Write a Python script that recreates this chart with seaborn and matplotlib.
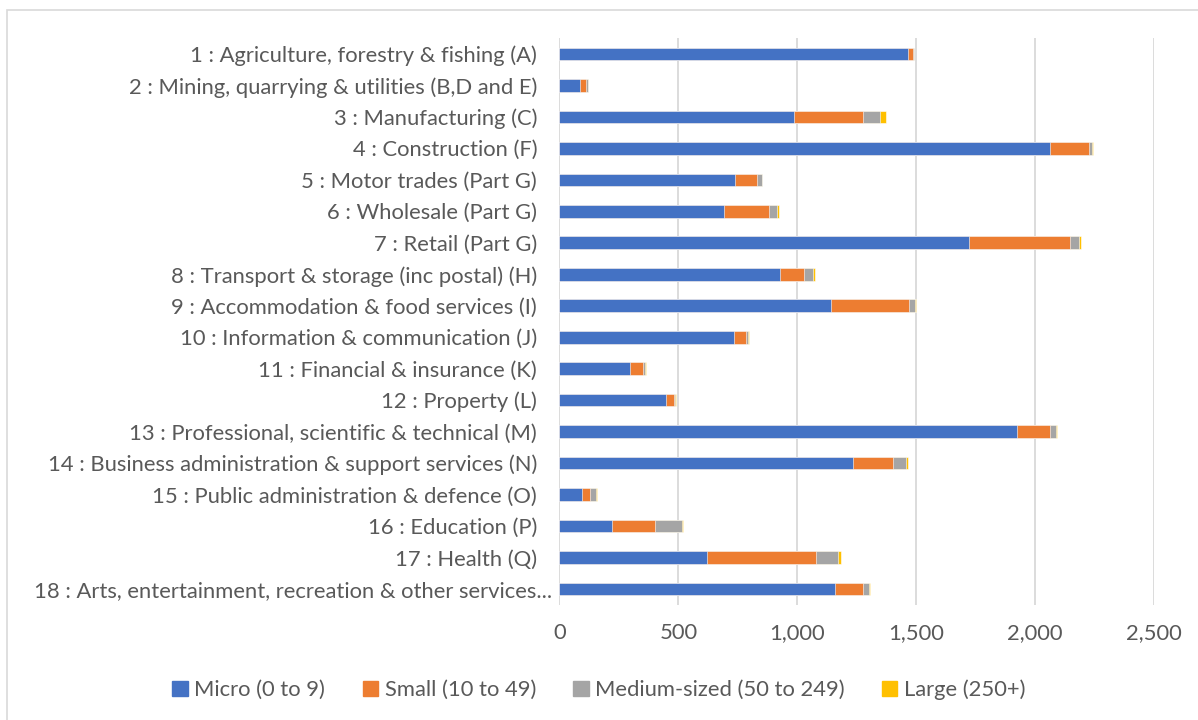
import numpy as np
import pandas as pd
import matplotlib
matplotlib.use("Agg")
import matplotlib.pyplot as plt
import matplotlib.patches as mpatches
import matplotlib.transforms as mtransforms
import seaborn as sns

# industries, top to bottom
industries = [
    "1 : Agriculture, forestry & fishing (A)",
    "2 : Mining, quarrying & utilities (B,D and E)",
    "3 : Manufacturing (C)",
    "4 : Construction (F)",
    "5 : Motor trades (Part G)",
    "6 : Wholesale (Part G)",
    "7 : Retail (Part G)",
    "8 : Transport & storage (inc postal) (H)",
    "9 : Accommodation & food services (I)",
    "10 : Information & communication (J)",
    "11 : Financial & insurance (K)",
    "12 : Property (L)",
    "13 : Professional, scientific & technical (M)",
    "14 : Business administration & support services (N)",
    "15 : Public administration & defence (O)",
    "16 : Education (P)",
    "17 : Health (Q)",
    "18 : Arts, entertainment, recreation & other services...",
]

micro = [1467, 86, 986, 2064, 739, 692, 1723, 928, 1143, 734, 297, 450, 1926, 1237, 93, 222, 621, 1161]
small = [21, 26, 291, 162, 92, 188, 423, 102, 328, 51, 56, 32, 138, 167, 35, 180, 460, 116]
medium = [3, 8, 72, 15, 20, 35, 38, 37, 26, 8, 6, 6, 27, 54, 26, 112, 91, 27]
large = [1, 1, 24, 2, 1, 7, 11, 8, 2, 4, 5, 1, 3, 9, 5, 6, 11, 4]

sizes = ["Micro (0 to 9)", "Small (10 to 49)", "Medium-sized (50 to 249)", "Large (250+)"]
colors = ["#4472C4", "#ED7D31", "#A5A5A5", "#FFC000"]

FS = 15.8

"""
Stacked horizontal bars: draw cumulative totals, biggest layer first
"""
def stacked_bars(ax):
    df = pd.DataFrame({"industry": industries, "micro": micro, "small": small,
                       "medium": medium, "large": large})
    cols = ["micro", "small", "medium", "large"]
    cum = df[cols].cumsum(axis=1)
    for col, c in reversed(list(zip(cols, colors))):
        sns.barplot(x=cum[col], y=df["industry"], color=c, orient="h", width=0.4,
                    edgecolor="white", linewidth=0.4, saturation=1, ax=ax)


if __name__ == '__main__':
    sns.set_style("white")
    plt.rcParams['font.family'] = ['Lato', 'DejaVu Sans']

    fig = plt.figure(figsize=(11.98, 7.2), dpi=100)
    ax = fig.add_axes([0.467, 0.160, 0.496, 0.787])

    stacked_bars(ax)

    ax.set_xlim(0, 2500)
    ax.set_xticks(np.arange(0, 2501, 500))
    ax.set_xticklabels([f"{v:,}" for v in range(0, 2501, 500)])
    ax.xaxis.grid(True, color="#d9d9d9", linewidth=1.3)
    ax.set_axisbelow(True)
    for s in ax.spines.values():
        s.set_visible(False)
    ax.set_xlabel("")
    ax.set_ylabel("")
    ax.tick_params(axis="y", length=0, pad=16, labelsize=FS, labelcolor="#595959")
    ax.tick_params(axis="x", length=0, pad=13, labelsize=FS, labelcolor="#595959")

    # the truncated last label sticks out a bit in the original
    last = ax.get_yticklabels()[-1]
    last.set_transform(last.get_transform() +
                       mtransforms.ScaledTranslation(0.15, 0, fig.dpi_scale_trans))

    # chart frame
    fig.patches.append(mpatches.Rectangle((7 / 1198, -0.05), 1.2, 1 - 10 / 720 + 0.05,
                                          transform=fig.transFigure, fill=False,
                                          edgecolor="#d9d9d9", linewidth=1.2))

    handles = [mpatches.Patch(color=c, label=l) for c, l in zip(colors, sizes)]
    fig.legend(handles=handles, loc="center", bbox_to_anchor=(0.5, 0.042), ncol=4,
               frameon=False, fontsize=FS, handlelength=0.7, handleheight=0.7,
               handletextpad=0.3, columnspacing=1.7, labelcolor="#595959")

    fig.savefig("out.png", dpi=100)
